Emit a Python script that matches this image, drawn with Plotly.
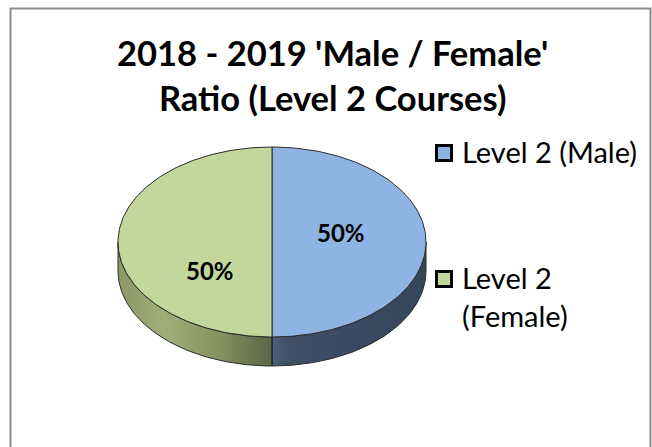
import numpy as np
import plotly.graph_objects as go

# ---- data ----
categories = ["Level 2 (Male)", "Level 2 (Female)"]
values = [50, 50]
legend_labels = ["Level 2 (Male)", "Level 2<br>(Female)"]
title_text = "2018 - 2019 'Male / Female'<br>Ratio (Level 2 Courses)"

# ---- styling ----
top_colors = ["#8db4e2", "#c3d69b"]
side_scales = [
    [[0, "#4b5f79"], [0.12, "#3e4f66"], [1, "#35455a"]],
    [[0, "#8b9866"], [0.3, "#a1ae7a"], [0.65, "#87935f"], [1, "#5a6545"]],
]
edge = "#2b2b2b"
FONT = "Lato"

W, H = 652, 447
cx, cy, rx, ry, depth = 272, 242, 154, 95, 29

fracs = np.array(values, dtype=float) / np.sum(values)
starts = np.concatenate([[0], np.cumsum(fracs)[:-1]]) * 360
ends = np.cumsum(fracs) * 360


def pt(theta_deg, dy=0.0):
    t = np.radians(theta_deg)
    return cx + rx * np.sin(t), cy - ry * np.cos(t) + dy


fig = go.Figure()

# sides (front part only: angles 90..270)
for i in range(len(values)):
    a, b = max(starts[i], 90), min(ends[i], 270)
    if b <= a:
        continue
    th = np.linspace(a, b, 80)
    xt, yt = pt(th)
    xb, yb = pt(th[::-1], depth)
    xs = np.concatenate([xt, xb, xt[:1]])
    ys = np.concatenate([yt, yb, yt[:1]])
    fig.add_trace(go.Scatter(
        x=xs, y=ys, mode="lines", fill="toself",
        fillgradient=dict(type="horizontal", colorscale=side_scales[i]),
        line=dict(color=edge, width=1), hoverinfo="skip", showlegend=False))
    for ang in (a, b):
        if 90 < ang < 270:
            x0, y0 = pt(ang)
            x1, y1 = pt(ang, depth)
            fig.add_trace(go.Scatter(x=[x0, x1], y=[y0, y1], mode="lines",
                                     line=dict(color=edge, width=1.2),
                                     hoverinfo="skip", showlegend=False))

# top faces
for i in range(len(values)):
    th = np.linspace(starts[i], ends[i], 160)
    xa, ya = pt(th)
    xs = np.concatenate([[cx], xa, [cx]])
    ys = np.concatenate([[cy], ya, [cy]])
    fig.add_trace(go.Scatter(
        x=xs, y=ys, mode="lines", fill="toself", fillcolor=top_colors[i],
        line=dict(color=edge, width=1), hoverinfo="skip", showlegend=False,
        name=categories[i]))

# data labels
label_pos = [(0.45, -10), (0.40, 28)]
for i in range(len(values)):
    mid = (starts[i] + ends[i]) / 2
    t = np.radians(mid)
    f, dy = label_pos[i]
    lx = cx + f * rx * np.sin(t)
    ly = cy - f * ry * np.cos(t) + dy
    fig.add_annotation(x=lx, y=ly, xref="x", yref="y",
                       text=f"{fracs[i]*100:.0f}%", showarrow=False,
                       font=dict(family=FONT, size=24, color="black", weight="bold"))

# legend (manual)
leg_y = [153, 279]
for i in range(len(values)):
    fig.add_trace(go.Scatter(
        x=[444], y=[leg_y[i]], mode="markers",
        marker=dict(symbol="square", size=15, color=top_colors[i],
                    line=dict(color="black", width=3)),
        hoverinfo="skip", showlegend=False))
    fig.add_annotation(x=460, y=leg_y[i] - 21, xref="x", yref="y",
                       text=legend_labels[i], showarrow=False,
                       xanchor="left", yanchor="top", align="left",
                       font=dict(family=FONT, size=29, color="black"))

# title
fig.add_annotation(x=332, y=30, xref="x", yref="y", text=title_text,
                   showarrow=False, xanchor="center", yanchor="top",
                   font=dict(family=FONT, size=34.5, color="black", weight="bold"))

# chart border
fig.add_shape(type="rect", xref="x", yref="y", x0=10.5, y0=8.5, x1=650.5, y1=460,
              line=dict(color="#8c8c8c", width=2), fillcolor="rgba(0,0,0,0)",
              layer="below")

fig.update_layout(
    width=W, height=H, margin=dict(l=0, r=0, t=0, b=0),
    paper_bgcolor="white", plot_bgcolor="white",
    xaxis=dict(range=[0, W], visible=False, fixedrange=True),
    yaxis=dict(range=[H, 0], visible=False, fixedrange=True),
    showlegend=False,
)

fig.write_html("out.html",
               config={"displayModeBar": False},
               post_script="document.body.style.margin='0';document.body.style.overflow='hidden';")
